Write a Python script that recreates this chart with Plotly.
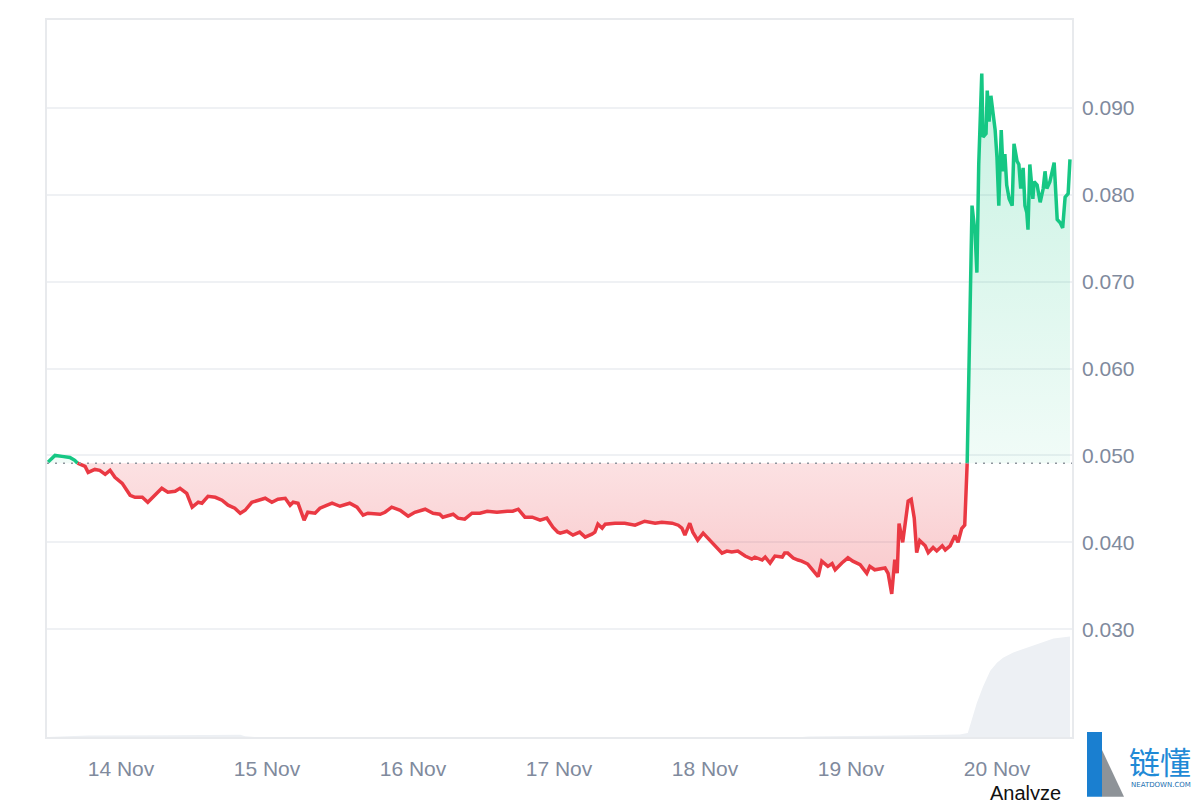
import plotly.graph_objects as go
import pandas as pd

# ---------------- data ----------------
START = pd.Timestamp("2024-11-13 12:00")
BASELINE = 0.0491

hours_since_start = [
    0, 1.15, 2.3, 3.6, 4.4, 4.8, 5.6, 6.1, 6.6, 7.7, 8.5, 9.4, 10.2, 11.0, 12.2, 13.5,
    14.3, 15.5, 16.4, 17.6, 18.7, 19.7, 20.9, 21.7, 22.8, 23.7, 24.7, 25.3, 26.3, 27.5,
    28.6, 29.6, 30.7, 31.6, 32.4, 33.5, 34.5, 35.7, 36.8, 37.8, 39.0, 39.8, 40.3, 41.1,
    42.1, 42.7, 43.9, 44.7, 45.9, 46.7, 48.0, 49.6, 50.8, 51.8, 52.6, 54.6, 55.4, 56.5,
    57.9, 59.2, 60.3, 62.0, 63.3, 64.4, 64.9, 66.6, 67.4, 68.5, 69.7, 71.0, 72.2, 73.8,
    75.5, 76.4, 77.3, 78.4, 79.6, 80.9, 82.0, 83.0, 83.8, 84.2, 85.3, 86.3, 87.4, 88.3,
    89.4, 89.9, 90.4, 91.1, 91.6, 93.2, 94.8, 96.5, 98.1, 99.8, 100.9, 102.6, 103.6,
    104.2, 104.7, 105.5, 106.0, 106.8, 107.7, 108.5, 109.6, 110.8, 111.6, 112.4, 113.4,
    114.6, 115.7, 116.2, 117.4, 117.9, 118.7, 119.5, 120.7, 121.1, 121.6, 122.5, 123.3,
    123.9, 124.9, 125.8, 126.6, 127.2, 128.2, 128.9, 129.4, 130.5, 131.5, 132.3, 133.5,
    134.6, 135.1, 135.9, 136.8, 137.6, 138.1, 138.7, 139.2, 139.6, 139.9, 140.5, 141.4,
    141.9, 142.4, 142.8, 143.3, 144.2, 144.7, 145.5, 146.1, 147.0, 147.5, 148.3, 149.1,
    149.6, 150.2, 150.7, 151.1, 151.4, 151.9, 152.4, 152.7, 153.0, 153.5, 153.7, 154.2,
    154.4, 154.7, 155.0, 155.3, 155.7, 156.0, 156.3, 156.7, 157.0, 157.3, 157.6, 158.0,
    158.5, 158.8, 159.3, 159.6, 159.9, 160.3, 160.6, 160.9, 161.1, 161.4, 161.9, 162.1,
    162.6, 163.1, 163.6, 163.9, 164.2, 164.7, 165.4, 165.9, 166.4, 166.8, 167.2, 167.7,
    168.0,
]

price = [
    0.04923, 0.05000, 0.04989, 0.04977, 0.04943, 0.04912, 0.04885, 0.04874, 0.04805,
    0.04839, 0.04828, 0.04782, 0.04828, 0.04748, 0.04679, 0.04541, 0.04518, 0.04518,
    0.04461, 0.04541, 0.04622, 0.04576, 0.04587, 0.04622, 0.04564, 0.04404, 0.04461,
    0.04450, 0.04530, 0.04518, 0.04484, 0.04427, 0.04392, 0.04335, 0.04369, 0.04461,
    0.04484, 0.04507, 0.04461, 0.04495, 0.04507, 0.04427, 0.04461, 0.04450,
    0.04255, 0.04346, 0.04335, 0.04392, 0.04427, 0.04450, 0.04415, 0.04450, 0.04404,
    0.04312, 0.04335, 0.04323, 0.04346, 0.04404, 0.04369, 0.04300, 0.04346, 0.04381,
    0.04335, 0.04323, 0.04289, 0.04323, 0.04278, 0.04266, 0.04335, 0.04335, 0.04358,
    0.04346, 0.04358, 0.04358, 0.04381, 0.04289, 0.04289, 0.04255, 0.04278, 0.04174,
    0.04117, 0.04106, 0.04128, 0.04083, 0.04117, 0.04060, 0.04094, 0.04117, 0.04209,
    0.04163, 0.04209, 0.04220, 0.04220, 0.04197, 0.04243, 0.04220, 0.04232, 0.04220,
    0.04197, 0.04163, 0.04083, 0.04220, 0.04117, 0.04025, 0.04106, 0.04048, 0.03968,
    0.03876, 0.03899, 0.03888, 0.03899, 0.03842, 0.03807, 0.03830, 0.03796, 0.03830,
    0.03761, 0.03842, 0.03830, 0.03876, 0.03876, 0.03819, 0.03796, 0.03784, 0.03750,
    0.03681, 0.03605, 0.03783, 0.03723, 0.03755, 0.03684, 0.03763, 0.03822, 0.03783,
    0.03743, 0.03644, 0.03723, 0.03684, 0.03692, 0.03704, 0.03644, 0.03407, 0.03802,
    0.03644, 0.04217, 0.04000, 0.04474, 0.04494, 0.04277, 0.03881, 0.04019, 0.03960,
    0.03881, 0.03941, 0.03901, 0.03960, 0.03913, 0.03960, 0.04079, 0.04000, 0.04158,
    0.04198, 0.04909, 0.05976, 0.07874, 0.07557, 0.07103, 0.08348, 0.09395, 0.08664,
    0.08704, 0.09198, 0.08842, 0.09138, 0.08960, 0.08743, 0.08427, 0.07874, 0.08743,
    0.08269, 0.08466, 0.08110, 0.07953, 0.07874, 0.08585, 0.08387, 0.08348, 0.08071,
    0.08308, 0.07874, 0.07795, 0.07597, 0.08348, 0.07953, 0.08150, 0.08110, 0.07913,
    0.08071, 0.08269, 0.08071, 0.08150, 0.08368, 0.07715, 0.07676, 0.07617, 0.07972,
    0.08012, 0.08407,
]

volume_hours = [0, 6.6, 20.0, 31.6, 32.4, 34.0, 124.0, 125.0, 140.0, 149.9, 151.2,
                152.7, 153.7, 154.9, 156.0, 157.0, 158.6, 160.9, 163.1, 165.3, 168.0]
volume = [0, 1.5, 1.8, 2.2, 0.8, 0, 0, 0.6, 1.5, 2.5, 4,
          34, 50, 66, 74, 79, 84, 89, 94, 98, 100]

y_tick_values = [0.03, 0.04, 0.05, 0.06, 0.07, 0.08, 0.09]
x_tick_dates = ["2024-11-14", "2024-11-15", "2024-11-16", "2024-11-17",
                "2024-11-18", "2024-11-19", "2024-11-20"]

GREEN = "#16c784"
RED = "#ea3943"

# ---------------- split series at the baseline ----------------
H, V = [], []
for i, v in enumerate(price):
    if i > 0 and (price[i - 1] - BASELINE) * (v - BASELINE) < 0:
        f = (BASELINE - price[i - 1]) / (v - price[i - 1])
        H.append(hours_since_start[i - 1] + f * (hours_since_start[i] - hours_since_start[i - 1]))
        V.append(BASELINE)
    H.append(hours_since_start[i])
    V.append(v)

T = START + pd.to_timedelta(H, unit="h")
up_fill = [max(v, BASELINE) for v in V]
dn_fill = [min(v, BASELINE) for v in V]
up_line = [v if v >= BASELINE else None for v in V]
dn_line = [v if v <= BASELINE else None for v in V]
base_line = [BASELINE] * len(V)

vol_t = START + pd.to_timedelta(volume_hours, unit="h")

fig = go.Figure()

# volume area (secondary hidden axis)
fig.add_trace(go.Scatter(x=vol_t, y=volume, yaxis="y2", mode="lines",
                         line=dict(width=0, color="#e9edf2"), fill="tozeroy",
                         fillcolor="#edf0f4", hoverinfo="skip", showlegend=False))

# green fill
fig.add_trace(go.Scatter(x=T, y=base_line, mode="lines", line=dict(width=0),
                         hoverinfo="skip", showlegend=False))
fig.add_trace(go.Scatter(x=T, y=up_fill, mode="lines", line=dict(width=0),
                         fill="tonexty",
                         fillgradient=dict(type="vertical",
                                           colorscale=[[0, "rgba(22,199,132,0.06)"],
                                                       [1, "rgba(22,199,132,0.24)"]]),
                         hoverinfo="skip", showlegend=False))
# red fill
fig.add_trace(go.Scatter(x=T, y=base_line, mode="lines", line=dict(width=0),
                         hoverinfo="skip", showlegend=False))
fig.add_trace(go.Scatter(x=T, y=dn_fill, mode="lines", line=dict(width=0),
                         fill="tonexty",
                         fillgradient=dict(type="vertical",
                                           colorscale=[[0, "rgba(234,57,67,0.28)"],
                                                       [1, "rgba(234,57,67,0.15)"]]),
                         hoverinfo="skip", showlegend=False))

# baseline dotted
fig.add_hline(y=BASELINE, line=dict(color="#8f959e", width=1.5, dash="2px,6px"))

# price lines
fig.add_trace(go.Scatter(x=T, y=up_line, mode="lines",
                         line=dict(color=GREEN, width=3.5, shape="linear"),
                         connectgaps=False, showlegend=False))
fig.add_trace(go.Scatter(x=T, y=dn_line, mode="lines",
                         line=dict(color=RED, width=3.5, shape="linear"),
                         connectgaps=False, showlegend=False))

FONT = "Liberation Sans, Arial, sans-serif"
TICK_COLOR = "#808a9d"

# page is offset by the 8px body margin
ML, MR, MT, MB = 39, 136, 10, 71

fig.update_layout(
    width=1200, height=800,
    margin=dict(l=ML, r=MR, t=MT, b=MB),
    paper_bgcolor="white", plot_bgcolor="white",
    font=dict(family=FONT, size=21, color=TICK_COLOR),
    xaxis=dict(
        type="date",
        range=[START - pd.Timedelta(minutes=10), START + pd.Timedelta(hours=168, minutes=20)],
        tickvals=x_tick_dates, tickformat="%d %b",
        showgrid=False, zeroline=False,
        showline=True, linecolor="#e8eaed", linewidth=1.5, mirror=True,
        ticks="", ticklabelstandoff=12,
        tickfont=dict(size=21, color=TICK_COLOR),
    ),
    yaxis=dict(
        side="right", range=[0.0176, 0.1001],
        tickvals=y_tick_values, tickformat=".3f",
        showgrid=True, gridcolor="#eff1f4", gridwidth=1.5, zeroline=False,
        showline=True, linecolor="#e8eaed", linewidth=1.5, mirror=True,
        ticks="", ticklabelstandoff=4,
        tickfont=dict(size=21, color=TICK_COLOR),
    ),
    yaxis2=dict(overlaying="y", range=[0, 714], visible=False),
    showlegend=False,
)

# ---------------- logo / watermark decoration (page pixel helpers) ----------------
PW, PH = 1200 - ML - MR, 800 - MT - MB


def px(x):
    return (x - 8 - ML) / PW


def py(y):
    return (800 - MB - (y - 8)) / PH


fig.add_shape(type="rect", xref="paper", yref="paper",
              x0=px(1087), x1=px(1102), y0=py(797), y1=py(732),
              fillcolor="#1a7fd0", line=dict(width=0), layer="above")
fig.add_shape(type="path", xref="paper", yref="paper",
              path=f"M {px(1102)},{py(750)} L {px(1102)},{py(797)} L {px(1124)},{py(797)} Z",
              fillcolor="#8e9398", line=dict(width=0), layer="above")
fig.add_annotation(text="链懂", xref="paper", yref="paper", x=px(1160), y=py(761),
                   xanchor="center", yanchor="middle",
                   showarrow=False, font=dict(family="Noto Sans CJK SC", size=31, color="#1f8ad6"))
fig.add_annotation(text="NEATDOWN.COM", xref="paper", yref="paper", x=px(1161), y=py(785),
                   xanchor="center", yanchor="middle",
                   showarrow=False, font=dict(family="DejaVu Sans", size=7, color="#1b6fb0"))
fig.add_annotation(text="Analyze", xref="paper", yref="paper", x=px(1025), y=py(780),
                   xanchor="center", yanchor="top", showarrow=False,
                   font=dict(family=FONT, size=20, color="#111111"))

fig.write_html("out.html")
